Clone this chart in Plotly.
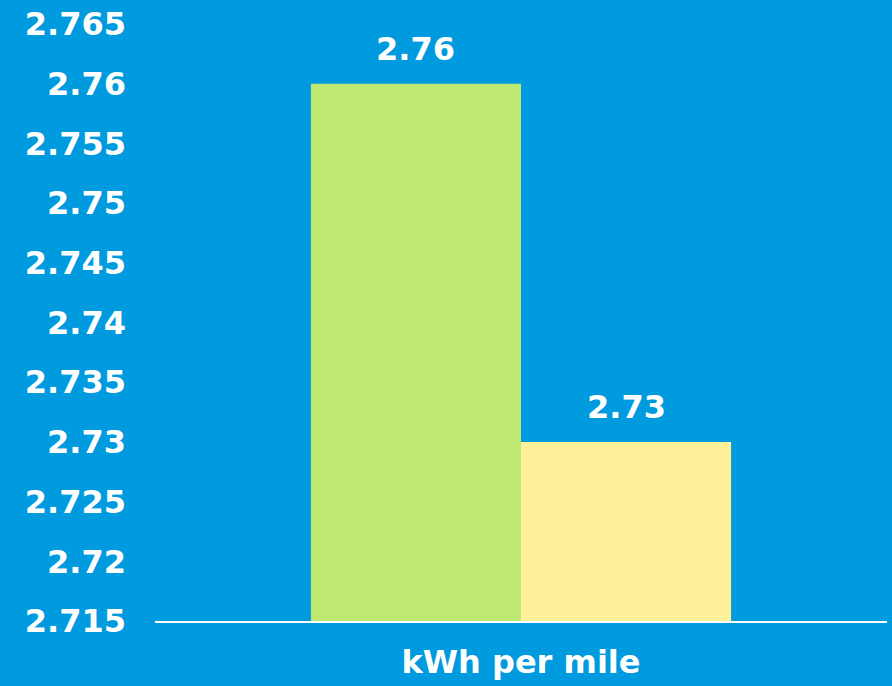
import plotly.graph_objects as go

categories = ["kWh per mile"]
series_names = ["A", "B"]
series_values = [[2.76], [2.73]]
series_colors = ["#BDE973", "#FFF199"]
tick_vals = [2.715, 2.72, 2.725, 2.73, 2.735, 2.74, 2.745, 2.75, 2.755, 2.76, 2.765]
tick_text = ["2.715", "2.72", "2.725", "2.73", "2.735", "2.74", "2.745", "2.75", "2.755", "2.76", "2.765"]

BG = "#009ADE"
FONT = "DejaVu Sans"
FS = 32
BARGAP = 0.426

fig = go.Figure()
n = len(series_names)
w = (1 - BARGAP) / n
for i, (name, vals, col) in enumerate(zip(series_names, series_values, series_colors)):
    fig.add_trace(go.Bar(
        x=categories, y=vals, name=name, marker=dict(color=col, line=dict(width=0)),
    ))
    for ci, v in enumerate(vals):
        fig.add_annotation(
            x=ci - (1 - BARGAP) / 2 + w * (i + 0.5), y=v, xref="x", yref="y",
            text=f"{v:.2f}", showarrow=False, yanchor="bottom", yshift=14,
            font=dict(family=FONT, size=FS, color="white", weight="bold"),
        )

fig.update_layout(
    width=892, height=686,
    margin=dict(l=155, r=5, t=22, b=64),
    paper_bgcolor=BG, plot_bgcolor=BG,
    barmode="group", bargap=BARGAP, bargroupgap=0,
    showlegend=False,
    font=dict(family=FONT, color="white"),
)
fig.update_yaxes(
    range=[2.715, 2.765], tickvals=tick_vals, ticktext=tick_text,
    showgrid=False, zeroline=False, showline=False,
    tickfont=dict(family=FONT, size=FS, color="white", weight="bold"),
    ticks="", ticklabelstandoff=28,
)
fig.update_xaxes(
    showline=True, linecolor="white", linewidth=2, showgrid=False,
    tickfont=dict(family=FONT, size=FS, color="white", weight="bold"),
    ticks="", ticklabelstandoff=12,
)
fig.write_html("out.html")
